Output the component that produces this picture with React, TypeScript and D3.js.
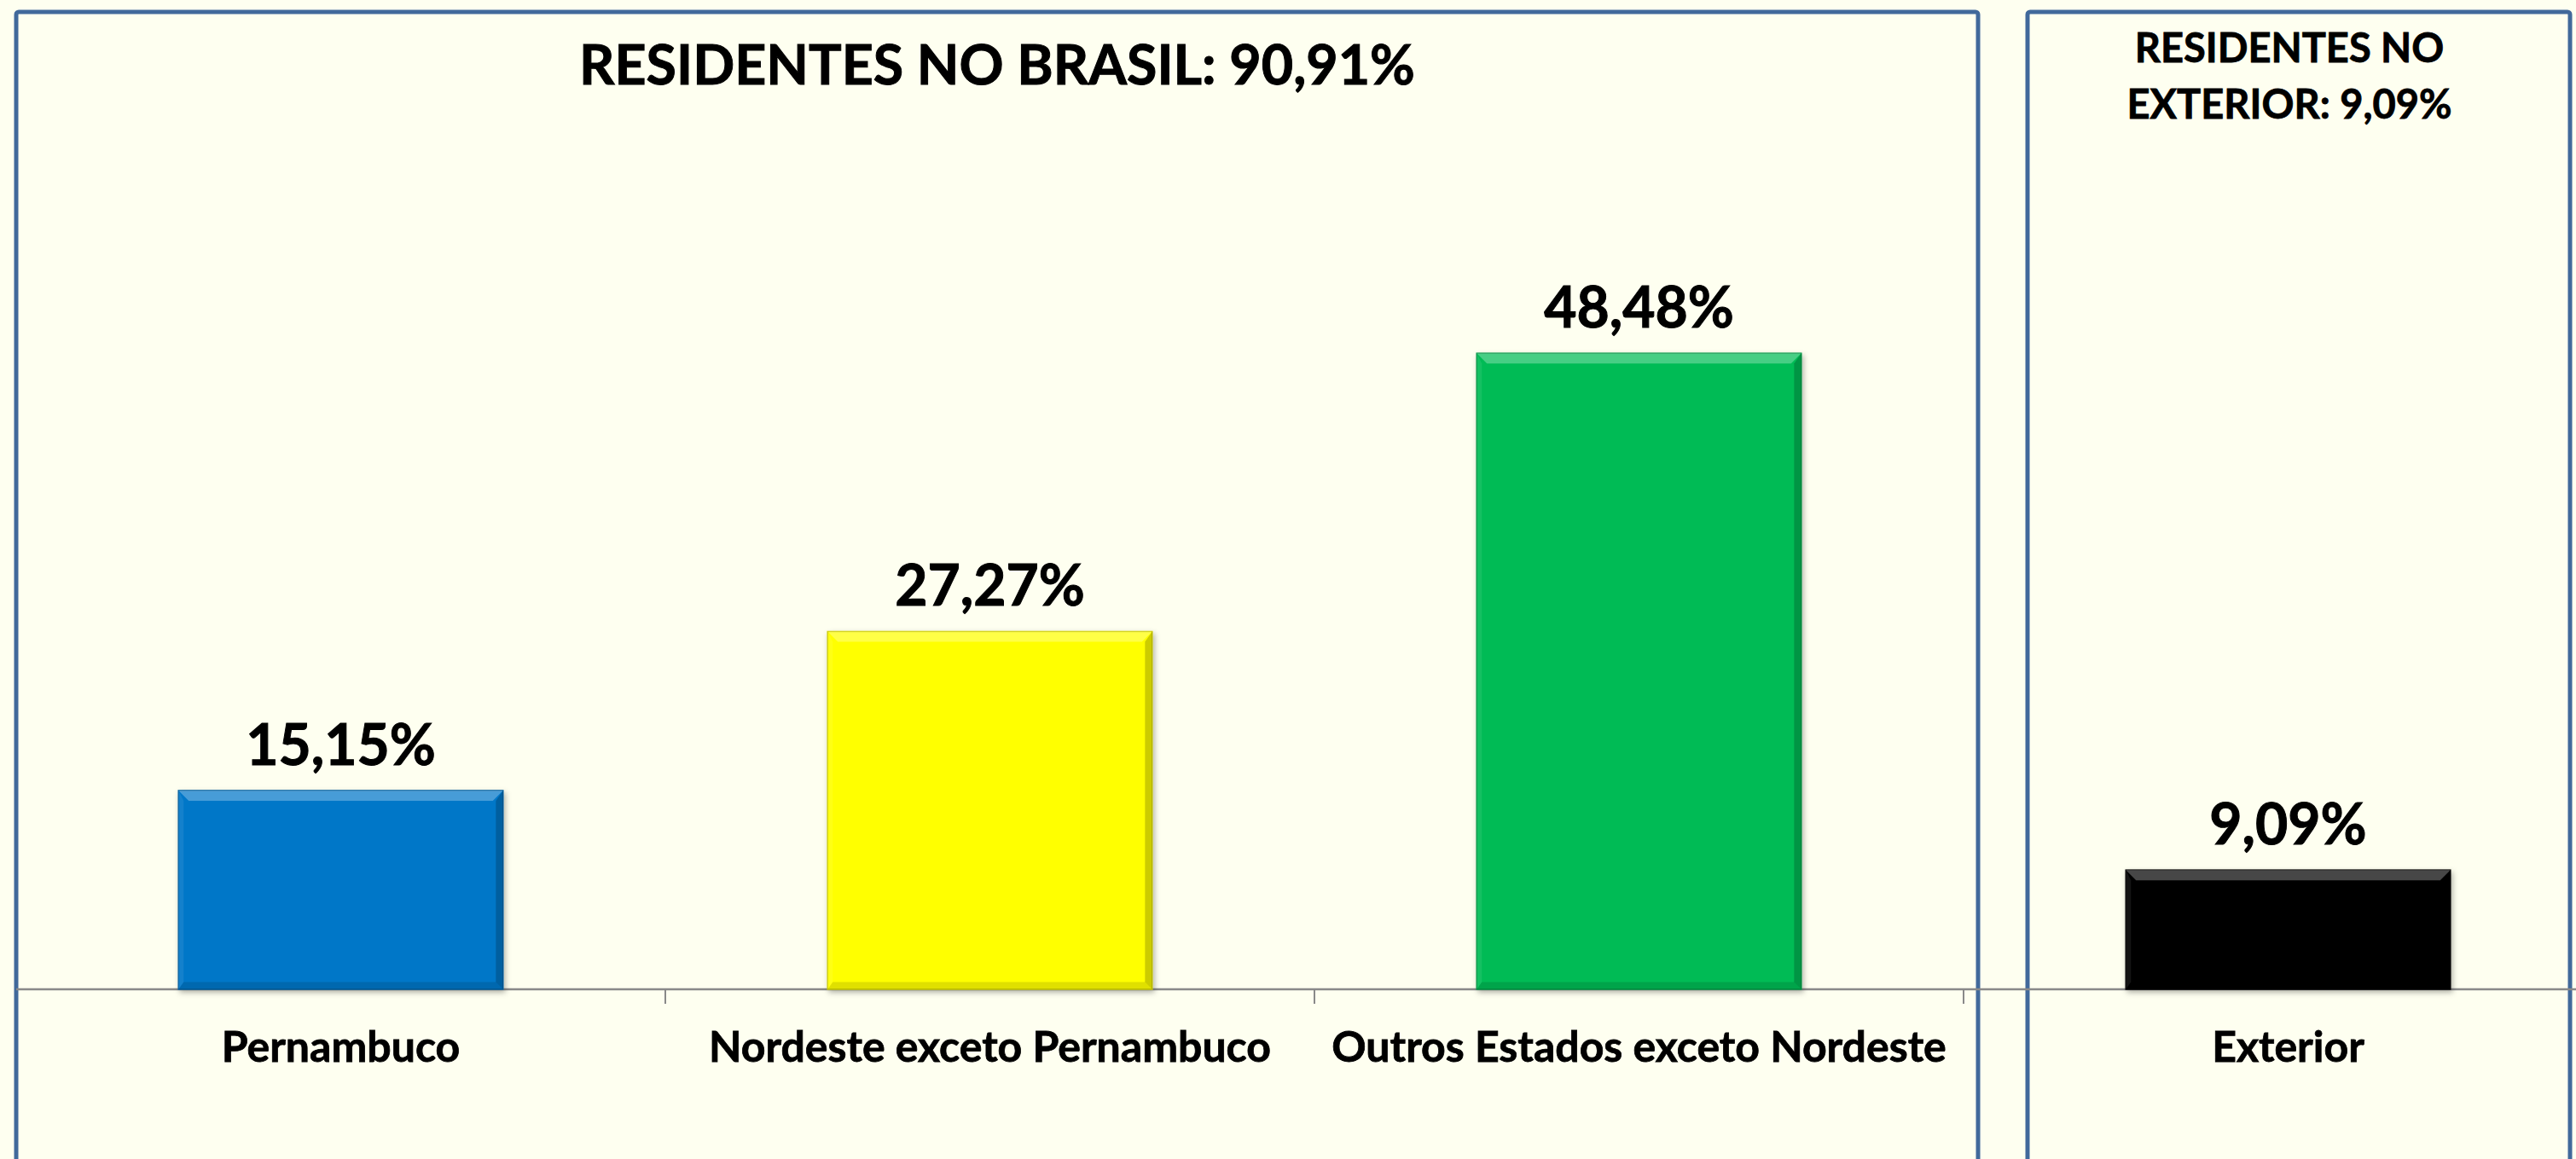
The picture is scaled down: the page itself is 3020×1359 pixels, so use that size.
import { useEffect, useRef } from "react";
import * as d3 from "d3";

const categories = ["Pernambuco", "Nordeste exceto Pernambuco", "Outros Estados exceto Nordeste", "Exterior"];
const values = [15.15, 27.27, 48.48, 9.09];
const valueLabels = ["15,15%", "27,27%", "48,48%", "9,09%"];
const barColors = ["#0677c8", "#ffff00", "#06bb55", "#050505"];
const leftTitle = "RESIDENTES NO BRASIL: 90,91%";
const rightTitle = ["RESIDENTES NO", "EXTERIOR: 9,09%"];

const width = 3020;
const height = 1359;
const bg = "#fefff0";
const panelColor = "#41699b";
const font = "Lato, 'Open Sans', sans-serif";

export default function App() {
    const svgRef = useRef<SVGSVGElement | null>(null);

    useEffect(() => {
        const svg = d3.select(svgRef.current);
        svg.selectAll("*").remove();

        const baseY = 1160;
        const xScale = d3.scaleBand<string>()
            .domain(categories)
            .range([19, 3063])
            .paddingInner(0.5)
            .paddingOuter(0.25);
        const yScale = d3.scaleLinear()
            .domain([0, 60])
            .range([baseY, baseY - 923]);

        const defs = svg.append("defs");
        defs.append("filter")
            .attr("id", "shadow")
            .attr("x", "-10%").attr("y", "-10%")
            .attr("width", "120%").attr("height", "120%")
            .append("feDropShadow")
            .attr("dx", 2).attr("dy", 3)
            .attr("stdDeviation", 3)
            .attr("flood-color", "#000")
            .attr("flood-opacity", 0.3);

        svg.append("rect")
            .attr("width", width).attr("height", height)
            .attr("fill", bg);

        // panels
        svg.append("rect")
            .attr("x", 19).attr("y", 14)
            .attr("width", 2300).attr("height", 1400)
            .attr("rx", 3)
            .attr("fill", "none")
            .attr("stroke", panelColor)
            .attr("stroke-width", 5);
        svg.append("rect")
            .attr("x", 2377).attr("y", 14)
            .attr("width", 636).attr("height", 1400)
            .attr("rx", 3)
            .attr("fill", "none")
            .attr("stroke", panelColor)
            .attr("stroke-width", 5);

        // axis line + ticks at category boundaries
        const step = xScale.step();
        const gap = step - xScale.bandwidth();
        svg.append("line")
            .attr("x1", 19).attr("x2", width)
            .attr("y1", baseY).attr("y2", baseY)
            .attr("stroke", "#898989")
            .attr("stroke-width", 2.5);
        svg.selectAll(".tick")
            .data(categories.slice(1))
            .join("line")
            .attr("x1", d => (xScale(d) as number) - gap / 2)
            .attr("x2", d => (xScale(d) as number) - gap / 2)
            .attr("y1", baseY)
            .attr("y2", baseY + 17)
            .attr("stroke", "#898989")
            .attr("stroke-width", 2);

        // bars
        const bw = xScale.bandwidth();
        const bev = 12;
        const bars = svg.selectAll(".bar")
            .data(categories)
            .join("g")
            .attr("class", "bar");
        bars.append("rect")
            .attr("x", d => xScale(d) as number)
            .attr("y", (d, i) => yScale(values[i]))
            .attr("width", bw)
            .attr("height", (d, i) => baseY - yScale(values[i]))
            .attr("fill", (d, i) => barColors[i])
            .attr("stroke", (d, i) => d3.color(barColors[i])!.darker(0.6).formatHex())
            .attr("stroke-width", 1.5)
            .attr("filter", "url(#shadow)");
        // bevel faces
        const face = (pts: (d: string, i: number) => number[][], fill: string, op: number) => {
            bars.append("polygon")
                .attr("points", (d, i) => pts(d, i).map(p => p.join(",")).join(" "))
                .attr("fill", fill)
                .attr("opacity", op);
        };
        const box = (d: string, i: number) => {
            const x0 = xScale(d) as number;
            const y0 = yScale(values[i]);
            return { x0, y0, x1: x0 + bw, y1: baseY };
        };
        face((d, i) => {
            const { x0, y0, x1 } = box(d, i);
            return [[x0, y0], [x1, y0], [x1 - bev, y0 + bev], [x0 + bev, y0 + bev]];
        }, "#ffffff", 0.28);
        face((d, i) => {
            const { x0, y0, x1, y1 } = box(d, i);
            return [[x1, y0], [x1, y1], [x1 - bev * 0.7, y1 - bev * 0.7], [x1 - bev * 0.7, y0 + bev]];
        }, "#000000", 0.2);
        face((d, i) => {
            const { x0, y1, x1 } = box(d, i);
            return [[x0, y1], [x1, y1], [x1 - bev * 0.7, y1 - bev * 0.7], [x0 + bev * 0.5, y1 - bev * 0.7]];
        }, "#000000", 0.12);
        face((d, i) => {
            const { x0, y0, y1 } = box(d, i);
            return [[x0, y0], [x0 + bev * 0.5, y0 + bev], [x0 + bev * 0.5, y1 - bev * 0.7], [x0, y1]];
        }, "#ffffff", 0.08);

        // value labels
        svg.selectAll(".vlabel")
            .data(categories)
            .join("text")
            .attr("x", d => (xScale(d) as number) + bw / 2)
            .attr("y", (d, i) => yScale(values[i]) - 30)
            .attr("text-anchor", "middle")
            .style("font-family", font)
            .style("font-weight", "bold")
            .style("font-size", "66px")
            .attr("fill", "#000")
            .attr("stroke", "#000")
            .attr("stroke-width", 1)
            .text((d, i) => valueLabels[i]);

        // category labels
        svg.selectAll(".clabel")
            .data(categories)
            .join("text")
            .attr("x", d => (xScale(d) as number) + bw / 2)
            .attr("y", 1245)
            .attr("text-anchor", "middle")
            .style("font-family", font)
            .style("font-weight", "bold")
            .style("font-size", "50px")
            .attr("fill", "#000")
            .attr("stroke", "#000")
            .attr("stroke-width", 0.8)
            .text(d => d);

        // titles
        svg.append("text")
            .attr("x", 1169).attr("y", 99)
            .attr("text-anchor", "middle")
            .style("font-family", font)
            .style("font-weight", "bold")
            .style("font-size", "64.5px")
            .attr("stroke", "#000")
            .attr("stroke-width", 1)
            .text(leftTitle);
        svg.append("text")
            .attr("x", 2684).attr("y", 73)
            .attr("text-anchor", "middle")
            .style("font-family", font)
            .style("font-weight", "bold")
            .style("font-size", "47px")
            .attr("stroke", "#000")
            .attr("stroke-width", 0.8)
            .selectAll("tspan")
            .data(rightTitle)
            .join("tspan")
            .attr("x", 2684)
            .attr("dy", (d, i) => (i === 0 ? 0 : 66))
            .text(d => d);
    }, []);

    return (
        <svg
            ref={svgRef}
            width={width}
            height={height}
            style={{ position: "absolute", left: 0, top: 0, display: "block" }}
        />
    );
}
